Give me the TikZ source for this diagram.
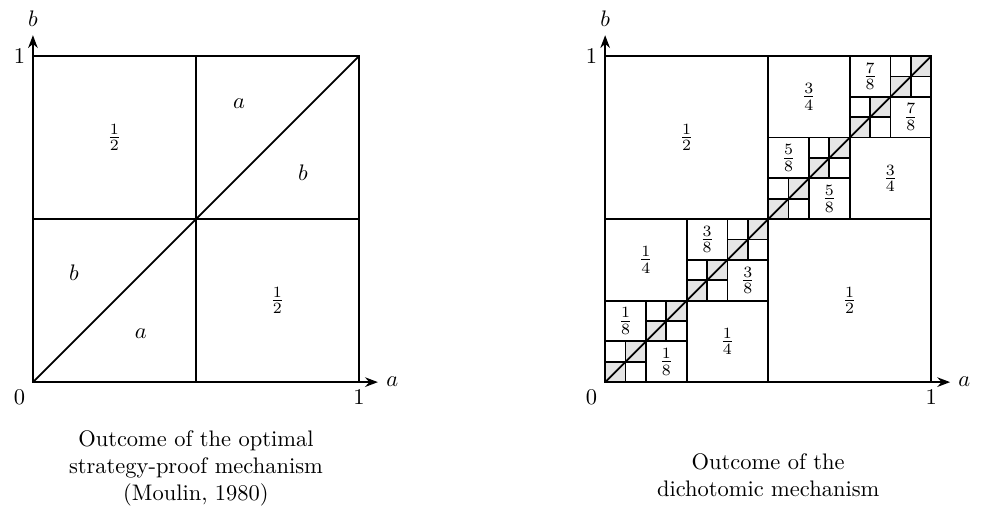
\documentclass[tikz,border=0pt]{standalone}
\usepackage{amsmath}
\usetikzlibrary{arrows.meta}

\begin{document}
\begin{tikzpicture}[
  x=5.1cm, y=5.1cm,
  cell/.style={draw=black, thick},
  axis/.style={-{Stealth[length=2mm]}, thick},
  shade/.style={fill=gray!20},
  caption/.style={align=center, anchor=north}
]
\useasboundingbox (-0.101,-0.439) rectangle (2.917,1.172);

% Moulin
\begin{scope}
  \coordinate (lo) at (0,0);
  \coordinate (lx) at (1.058,0);
  \coordinate (ly) at (0,1.064);
  \draw[cell] (0,0) rectangle (1,1);
  \draw[cell] (0.5,0) -- (0.5,1) (0,0.5) -- (1,0.5);
  \draw[cell] (0,0) -- (1,1);
  \draw[axis] (lo) -- (lx) node[right] (la) {$a$};
  \draw[axis] (lo) -- (ly) node[above] (lb) {$b$};
  \node[anchor=north east] (lzero) at (lo) {$0$};
  \node[below] (lonex) at (1,0) {$1$};
  \node[left] (loney) at (0,1) {$1$};
  \node (lhalfu) at (0.25,0.75) {$\frac{1}{2}$};
  \node (lhalfd) at (0.75,0.25) {$\frac{1}{2}$};
  \node (lau) at (0.632,0.853) {$a$};
  \node (lbu) at (0.828,0.641) {$b$};
  \node (lbd) at (0.126,0.337) {$b$};
  \node (lad) at (0.331,0.150) {$a$};
  \node[caption] (lcap) at (0.5,-0.125)
    {Outcome of the optimal\\strategy-proof mechanism\\(Moulin, 1980)};
\end{scope}

% dichotomic
\begin{scope}[shift={(1.755,0)}]
  \coordinate (ro) at (0,0);
  \coordinate (rx) at (1.058,0);
  \coordinate (ry) at (0,1.064);
  \foreach \j in {0,...,15}
    \fill[shade] ({\j/16},{\j/16}) rectangle ({(\j+1)/16},{(\j+1)/16});
  \draw[cell] (0,0) rectangle (1,1);
  \foreach \m in {1,2,4,8} {
    \pgfmathtruncatemacro\last{\m-1}
    \foreach \k in {0,...,\last}
      \draw[cell] ({(\k+0.5)/\m},{\k/\m}) -- ({(\k+0.5)/\m},{(\k+1)/\m})
                  ({\k/\m},{(\k+0.5)/\m}) -- ({(\k+1)/\m},{(\k+0.5)/\m});
  }
  \foreach \m in {1,2,4} {
    \pgfmathtruncatemacro\last{\m-1}
    \pgfmathtruncatemacro\den{2*\m}
    \foreach \k in {0,...,\last} {
      \pgfmathtruncatemacro\num{2*\k+1}
      \node (r\m-\k-u) at ({(\k+0.25)/\m},{(\k+0.75)/\m}) {$\frac{\num}{\den}$};
      \node (r\m-\k-d) at ({(\k+0.75)/\m},{(\k+0.25)/\m}) {$\frac{\num}{\den}$};
    }
  }
  \draw[cell] (0,0) -- (1,1);
  \draw[axis] (ro) -- (rx) node[right] (ra) {$a$};
  \draw[axis] (ro) -- (ry) node[above] (rb) {$b$};
  \node[anchor=north east] (rzero) at (ro) {$0$};
  \node[below] (ronex) at (1,0) {$1$};
  \node[left] (roney) at (0,1) {$1$};
  \node[caption] (rcap) at (0.5,-0.125) [yshift=-10pt]
    {Outcome of the\\dichotomic mechanism};
\end{scope}

\end{tikzpicture}
\end{document}
